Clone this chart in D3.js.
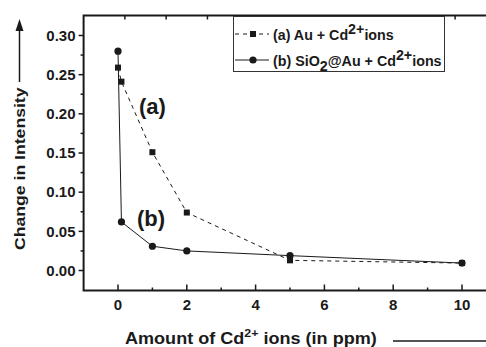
<!DOCTYPE html>
<html><head><meta charset="utf-8">
<script src="https://cdn.jsdelivr.net/npm/d3@7"></script>
<style>body{margin:0;background:#fff}svg{display:block;font-family:"Liberation Sans",Arial,sans-serif;font-weight:bold}</style>
</head><body><svg id="c" width="486" height="347"></svg>
<script>
const xA = [0, 0.1, 1, 2, 5, 10];
const yA = [0.259, 0.241, 0.151, 0.074, 0.013, 0.0095];
const xB = [0, 0.1, 1, 2, 5, 10];
const yB = [0.280, 0.062, 0.031, 0.025, 0.019, 0.0095];
const xTicks = [0, 2, 4, 6, 8, 10];
const xMinor = [1, 3, 5, 7, 9];
const yTicks = [0.00, 0.05, 0.10, 0.15, 0.20, 0.25, 0.30];
const yMinor = [0.025, 0.075, 0.125, 0.175, 0.225, 0.275];
const topTicks = [0.2, 1.4, 2.6, 3.8, 5.0, 6.2, 7.4, 8.6, 9.8];

const svg = d3.select("#c");
const W = 486;
const L = 83.6, T = 15.5, B = 290.5;
const x = d3.scaleLinear().domain([-1, 10]).range([L, 462]);
const y = d3.scaleLinear().domain([-0.0255, 0.3255]).range([B, T]);
const ink = "#1a1a1a";

// stretch a text group horizontally (in its own frame) to a target length
function fit(g, target) {
  const t = g.select("text");
  const w = t.node().getBBox().width;
  t.attr("transform", `scale(${target / w},1)`);
}

// frame
svg.append("path").attr("d", `M${W},${T}H${L}V${B}H${W}`).attr("fill","none").attr("stroke",ink).attr("stroke-width",2);

// bottom ticks (inward)
svg.selectAll(".xt").data(xTicks).enter().append("line")
  .attr("x1", d=>x(d)).attr("x2", d=>x(d)).attr("y1", B).attr("y2", B-6).attr("stroke",ink).attr("stroke-width",1.5);
svg.selectAll(".xm").data(xMinor).enter().append("line")
  .attr("x1", d=>x(d)).attr("x2", d=>x(d)).attr("y1", B).attr("y2", B-3).attr("stroke",ink).attr("stroke-width",1.5);
svg.selectAll(".xl").data(xTicks).enter().append("text")
  .attr("x", d=>x(d)).attr("y", 310).attr("text-anchor","middle").attr("font-size",15).attr("fill",ink).text(d=>d3.format("d")(d));

// top ticks
svg.selectAll(".tt").data(topTicks).enter().append("line")
  .attr("x1", d=>x(d)).attr("x2", d=>x(d)).attr("y1", T).attr("y2", T+4).attr("stroke",ink).attr("stroke-width",1.5);

// left ticks (outward)
svg.selectAll(".yt").data(yTicks).enter().append("line")
  .attr("x1", L).attr("x2", L-5).attr("y1", d=>y(d)).attr("y2", d=>y(d)).attr("stroke",ink).attr("stroke-width",1.5);
svg.selectAll(".ym").data(yMinor).enter().append("line")
  .attr("x1", L).attr("x2", L-3).attr("y1", d=>y(d)).attr("y2", d=>y(d)).attr("stroke",ink).attr("stroke-width",1.5);
svg.selectAll(".yl").data(yTicks).enter().append("text")
  .attr("x", 75.5).attr("y", d=>y(d)+5.3).attr("text-anchor","end").attr("font-size",15).attr("fill",ink).text(d=>d3.format(".2f")(d));

// series
const ptsA = xA.map((v,i)=>[v,yA[i]]);
const ptsB = xB.map((v,i)=>[v,yB[i]]);
const line = d3.line().x(d=>x(d[0])).y(d=>y(d[1]));
svg.append("path").attr("d", line(ptsA)).attr("fill","none").attr("stroke",ink).attr("stroke-width",1).attr("stroke-dasharray","4,4");
svg.append("path").attr("d", line(ptsB)).attr("fill","none").attr("stroke",ink).attr("stroke-width",1);
svg.selectAll(".sq").data(ptsA).enter().append("rect")
  .attr("x", d=>x(d[0])-3).attr("y", d=>y(d[1])-3).attr("width",6).attr("height",6).attr("fill",ink);
svg.selectAll(".ci").data(ptsB).enter().append("circle")
  .attr("cx", d=>x(d[0])).attr("cy", d=>y(d[1])).attr("r",3.6).attr("fill",ink);

// annotations
svg.append("text").attr("x",139).attr("y",114).attr("font-size",22).attr("fill",ink).text("(a)");
svg.append("text").attr("x",137).attr("y",226).attr("font-size",22).attr("fill",ink).text("(b)");

// legend
svg.append("rect").attr("x",233.5).attr("y",16.5).attr("width",211).attr("height",55).attr("fill","#fff").attr("stroke","#333").attr("stroke-width",1);
svg.append("line").attr("x1",235).attr("x2",269).attr("y1",34).attr("y2",34).attr("stroke",ink).attr("stroke-dasharray","4,4");
svg.append("rect").attr("x",250).attr("y",31).attr("width",6).attr("height",6).attr("fill",ink);
svg.append("line").attr("x1",235).attr("x2",269).attr("y1",60).attr("y2",60).attr("stroke",ink);
svg.append("circle").attr("cx",253).attr("cy",60).attr("r",3.6).attr("fill",ink);
const g1 = svg.append("g").attr("transform","translate(273,39.5)");
const t1 = g1.append("text").attr("font-size",14).attr("fill",ink);
t1.append("tspan").text("(a) Au + Cd");
t1.append("tspan").attr("dy",-6).text("2+");
t1.append("tspan").attr("dy",6).text("ions");
fit(g1, 121);
const g2 = svg.append("g").attr("transform","translate(273,65.5)");
const t2 = g2.append("text").attr("font-size",14).attr("fill",ink);
t2.append("tspan").text("(b) SiO");
t2.append("tspan").attr("dy",5).text("2");
t2.append("tspan").attr("dy",-5).text("@Au + Cd");
t2.append("tspan").attr("dy",-6).text("2+");
t2.append("tspan").attr("dy",6).text("ions");
fit(g2, 169);

// x title
const gx = svg.append("g").attr("transform","translate(125,344)");
const xt = gx.append("text").attr("font-size",16).attr("fill",ink);
xt.append("tspan").text("Amount of Cd");
xt.append("tspan").attr("dy",-7).attr("font-size",11).text("2+");
xt.append("tspan").attr("dy",7).text(" ions (in ppm)");
fit(gx, 252);
svg.append("line").attr("x1",393).attr("x2",486).attr("y1",341).attr("y2",341).attr("stroke",ink).attr("stroke-width",1.5);

// y title
const gy = svg.append("g").attr("transform","translate(25,250) rotate(-90)");
gy.append("text").attr("font-size",14).attr("fill",ink).text("Change in Intensity");
fit(gy, 163);
svg.append("line").attr("x1",19.5).attr("x2",19.5).attr("y1",82).attr("y2",28).attr("stroke",ink).attr("stroke-width",1.5);
svg.append("path").attr("d","M19.5,19 L15.5,31 L23.5,31 Z").attr("fill",ink);
</script></body></html>
